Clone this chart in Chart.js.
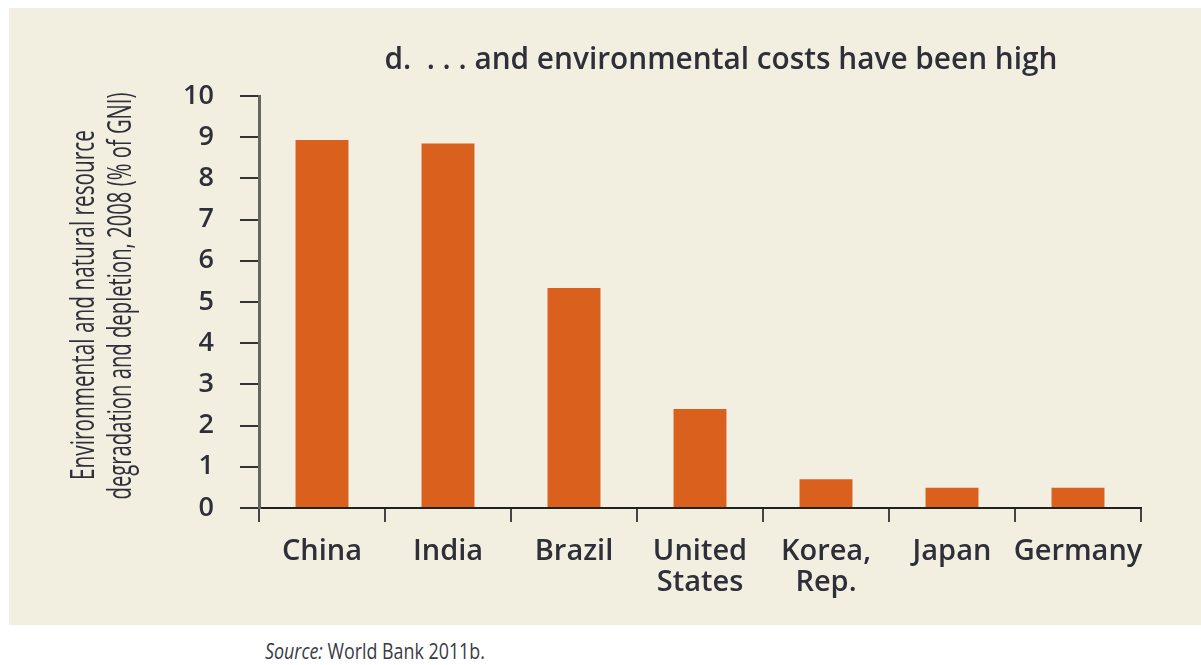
<!DOCTYPE html>
<html>
<head>
<meta charset="utf-8">
<script src="https://cdn.jsdelivr.net/npm/chart.js@4.4.1/dist/chart.umd.min.js"></script>
<style>
 html,body{margin:0;padding:0;background:#fff;}
 #panel{position:absolute;left:9px;top:8px;width:1192px;height:617px;background:#f3efe0;}
 #source{position:absolute;left:265px;top:637px;font:21px "Open Sans",sans-serif;color:#3a3a44;white-space:nowrap;transform:scaleX(0.85);transform-origin:0 0;}
 #source i{font-style:italic;}
</style>
</head>
<body>
<div id="panel"><canvas id="graficoCostos" width="1192" height="617"></canvas></div>
<div id="source"><i>Source:</i> World Bank 2011b.</div>
<script>
const PAISES=['China','India','Brazil',['United','States'],['Korea,','Rep.'],'Japan','Germany'];
const COSTOS=[8.93,8.85,5.34,2.4,0.7,0.49,0.49];
const TICKS_Y=[0,1,2,3,4,5,6,7,8,9,10];
const TITULO='d.  . . . and environmental costs have been high';
const TITULO_Y=['Environmental and natural resource','degradation and depletion, 2008 (% of GNI)'];

const TXT='#2f2f3a';
const FUENTE='"Open Sans", sans-serif';

// title and the squeezed two-line y axis caption
const textos={
 id:'textos',
 afterDraw(c){
  const ctx=c.ctx;
  ctx.save();
  ctx.fillStyle=TXT;
  ctx.font='600 30px '+FUENTE;
  ctx.textAlign='center';
  ctx.textBaseline='alphabetic';
  ctx.fillText(TITULO,712,61,673);
  ctx.font='32px '+FUENTE;
  const lineas=[{x:85,y:297,w:350},{x:122,y:288,w:407}];
  lineas.forEach((l,i)=>{
   ctx.save();
   ctx.translate(l.x,l.y);
   ctx.rotate(-Math.PI/2);
   ctx.fillText(TITULO_Y[i],0,0,l.w);
   ctx.restore();
  });
  ctx.restore();
 }
};

new Chart(document.getElementById('graficoCostos').getContext('2d'),{
 type:'bar',
 data:{labels:PAISES,datasets:[{data:COSTOS,backgroundColor:'#d9601d',borderWidth:0,barPercentage:0.42,categoryPercentage:1}]},
 options:{
  responsive:false,
  animation:false,
  layout:{padding:{left:0,right:60,top:88,bottom:0}},
  plugins:{legend:{display:false},tooltip:{enabled:false},title:{display:false}},
  scales:{
   x:{
    offset:true,
    afterFit:s=>{s.height=117;},
    grid:{offset:true,drawOnChartArea:false,drawTicks:true,tickLength:14,color:'#444',lineWidth:2},
    border:{display:true,color:'#222',width:2},
    ticks:{color:TXT,padding:15,maxRotation:0,autoSkip:false,font:{family:FUENTE,size:29,weight:'600',lineHeight:1.04}}
   },
   y:{
    min:0,max:10,
    afterFit:s=>{s.width=250;},
    afterBuildTicks:s=>{s.ticks=TICKS_Y.map(v=>({value:v}));},
    grid:{drawOnChartArea:false,drawTicks:true,tickLength:19,color:'#333',lineWidth:2},
    border:{display:true,color:'#666',width:3},
    ticks:{color:TXT,padding:26,font:{family:FUENTE,size:27,weight:'600'}}
   }
  }
 },
 plugins:[textos]
});
</script>
</body>
</html>
